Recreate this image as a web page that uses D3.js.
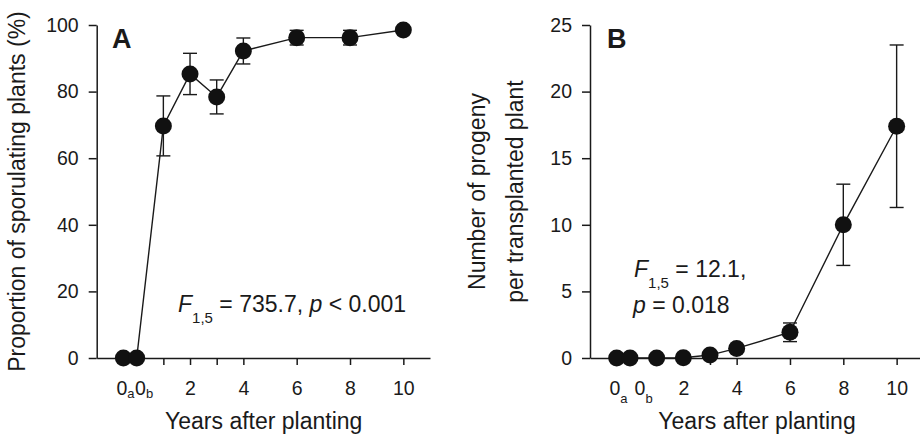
<!DOCTYPE html>
<html>
<head>
<meta charset="utf-8">
<script src="https://cdn.jsdelivr.net/npm/d3@7/dist/d3.min.js"></script>
<style>
  html, body { margin: 0; padding: 0; background: #fff; }
  svg text { font-family: "Liberation Sans", Arial, Helvetica, sans-serif; fill: #1a1a1a; white-space: pre; }
</style>
</head>
<body>
<svg id="chart" width="920" height="434"></svg>
<script>
// ---- data ----
const categories = ["0a", "0b", "1", "2", "3", "4", "6", "8", "10"];
const years = [-0.5, 0, 1, 2, 3, 4, 6, 8, 10];
const sporulating = [0, 0, 69.7, 85.3, 78.4, 92.2, 96.2, 96.2, 98.5];
const sporulatingErr = [0, 0, 9.0, 6.2, 5.1, 3.9, 2.2, 2.2, 0];
const progeny = [0, 0, 0, 0.02, 0.22, 0.72, 1.93, 10.0, 17.4];
const progenyErr = [0, 0, 0, 0, 0, 0, 0.7, 3.05, 6.1];
const xTicks = [1, 2, 3, 4, 6, 8, 10];
const xTickLabels = ["", "2", "", "4", "6", "8", "10"];
const yTicksA = [0, 20, 40, 60, 80, 100];
const yTicksB = [0, 5, 10, 15, 20, 25];

const ink = "#1a1a1a";
const svg = d3.select("#chart");

function panel(opts) {
  const g = svg.append("g");
  const x = d3.scaleLinear().domain([-1.5, 11]).range([opts.left, opts.left + 333.3]);
  const y = d3.scaleLinear().domain(opts.yDomain).range([358, 25]);

  // x axis
  const xa = g.append("g").attr("transform", "translate(0,358)")
    .call(d3.axisBottom(x).tickValues(xTicks).tickSize(7).tickSizeOuter(0).tickPadding(16)
      .tickFormat((d, i) => xTickLabels[i]));
  // y axis
  const ya = g.append("g").attr("transform", `translate(${opts.left},0)`)
    .call(d3.axisLeft(y).tickValues(opts.yTicks).tickSize(8).tickSizeOuter(0).tickPadding(10));
  [xa, ya].forEach(a => {
    a.select(".domain").attr("stroke", ink).attr("stroke-width", 1.5);
    a.selectAll(".tick line").attr("stroke", ink).attr("stroke-width", 1.5);
    a.selectAll(".tick text").attr("font-size", 19.5).attr("fill", ink)
      .style("font-family", '"Liberation Sans", Arial, sans-serif');
  });

  // 0a 0b label
  const z = g.append("text").attr("x", opts.zeroX).attr("y", 395).attr("font-size", 19.5);
  z.append("tspan").text("0");
  z.append("tspan").attr("font-size", 13).attr("dy", opts.subDy).text("a");
  z.append("tspan").attr("font-size", 19.5).attr("dy", -opts.subDy).attr("dx", opts.zeroGap).text("0");
  z.append("tspan").attr("font-size", 13).attr("dy", opts.subDy).text("b");

  // x title
  g.append("text").attr("x", opts.left + 167).attr("y", 429)
    .attr("text-anchor", "middle").attr("font-size", 23).text("Years after planting");

  // connecting line
  const pts = years.map((v, i) => [x(v), y(opts.values[i])]);
  g.append("path").attr("d", d3.line()(pts)).attr("fill", "none")
    .attr("stroke", ink).attr("stroke-width", 1.4);

  // error bars
  years.forEach((v, i) => {
    const e = opts.errs[i];
    if (!e) return;
    const cx = x(v), y1 = y(opts.values[i] + e), y2 = y(opts.values[i] - e);
    g.append("line").attr("x1", cx).attr("x2", cx).attr("y1", y1).attr("y2", y2)
      .attr("stroke", ink).attr("stroke-width", 1.4);
    [y1, y2].forEach(yy => g.append("line").attr("x1", cx - 7).attr("x2", cx + 7)
      .attr("y1", yy).attr("y2", yy).attr("stroke", ink).attr("stroke-width", 1.4));
  });

  // points
  g.selectAll("circle.pt").data(years).enter().append("circle")
    .attr("cx", d => x(d)).attr("cy", (d, i) => y(opts.values[i]))
    .attr("r", 8.5).attr("fill", "#111");

  // panel letter
  g.append("text").attr("x", opts.letterX).attr("y", 48).attr("font-size", 27)
    .attr("font-weight", "bold").text(opts.letter);
  return { x, y, g };
}

const A = panel({ left: 96.7, yDomain: [0, 100], yTicks: yTicksA, values: sporulating,
  errs: sporulatingErr, zeroX: 116.5, subDy: 3, zeroGap: 0.5, letter: "A", letterX: 112 });
const B = panel({ left: 590, yDomain: [0, 25], yTicks: yTicksB, values: progeny,
  errs: progenyErr, zeroX: 609.5, subDy: 8, zeroGap: 7, letter: "B", letterX: 607 });

// y titles
svg.append("text").attr("transform", "translate(24.5,191.5) rotate(-90)")
  .attr("text-anchor", "middle").attr("font-size", 23).text("Proportion of sporulating plants (%)");
svg.append("text").attr("transform", "translate(484.5,191.5) rotate(-90)")
  .attr("text-anchor", "middle").attr("font-size", 23).text("Number of progeny");
svg.append("text").attr("transform", "translate(522.5,191.5) rotate(-90)")
  .attr("text-anchor", "middle").attr("font-size", 23).text("per transplanted plant");

// annotations
function stat(xp, yp, parts) {
  const t = svg.append("text").attr("x", xp).attr("y", yp).attr("font-size", 23);
  parts.forEach(p => {
    const s = t.append("tspan").text(p.t);
    if (p.i) s.attr("font-style", "italic");
    if (p.sub) s.attr("font-size", 15).attr("dy", 11);
    if (p.up) s.attr("dy", -11);
  });
}
stat(178, 311.7, [{ t: "F", i: true }, { t: "1,5", sub: true }, { t: " = 735.7, ", up: true },
  { t: "p", i: true }, { t: " < 0.001" }]);
stat(634, 276.7, [{ t: "F", i: true }, { t: "1,5", sub: true }, { t: " = 12.1,", up: true }]);
stat(633, 313.3, [{ t: "p", i: true }, { t: " = 0.018" }]);
</script>
</body>
</html>
